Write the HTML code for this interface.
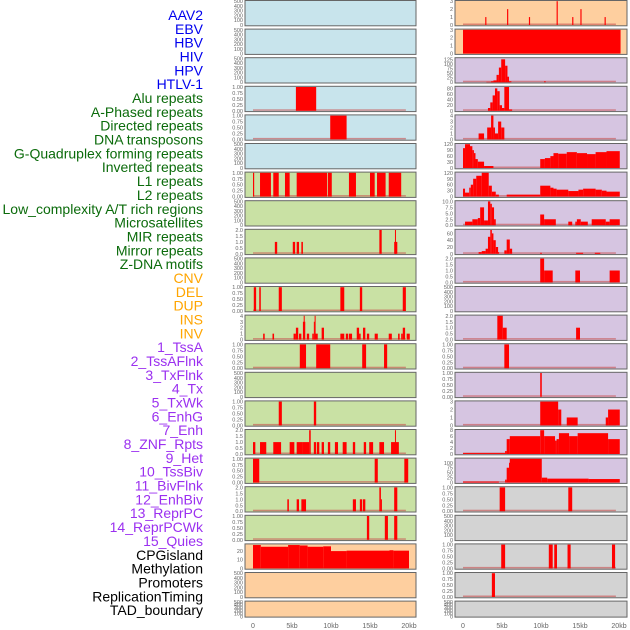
<!DOCTYPE html>
<html><head><meta charset="utf-8"><style>
html,body{margin:0;padding:0;background:#fff;}
svg{display:block;font-family:"Liberation Sans",sans-serif;}
</style></head><body>
<svg id="chart" width="630" height="630" viewBox="0 0 630 630" xmlns="http://www.w3.org/2000/svg"></svg>
<script>
const labels=["AAV2","EBV","HBV","HIV","HPV","HTLV-1","Alu repeats","A-Phased repeats","Directed repeats","DNA transposons","G-Quadruplex forming repeats","Inverted repeats","L1 repeats","L2 repeats","Low_complexity A/T rich regions","Microsatellites","MIR repeats","Mirror repeats","Z-DNA motifs","CNV","DEL","DUP","INS","INV","1_TssA","2_TssAFlnk","3_TxFlnk","4_Tx","5_TxWk","6_EnhG","7_Enh","8_ZNF_Rpts","9_Het","10_TssBiv","11_BivFlnk","12_EnhBiv","13_ReprPC","14_ReprPCWk","15_Quies","CPGisland","Methylation","Promoters","ReplicationTiming","TAD_boundary"];
const labelGroups=[6,13,5,15,5];
const groupColors=["#0000ee","#0b6b0b","#ffa500","#9b30f0","#000000"];
const xTicks=[0,5,10,15,20];
const xTickLabels=["0","5kb","10kb","15kb","20kb"];
const bgL=["b","b","b","b","b","b","g","g","g","g","g","g","g","g","g","g","g","g","g","p","p","p"];
const bgR=["p","p","v","v","v","v","v","v","v","v","v","v","v","v","v","v","v","e","e","e","e","e"];
const ymaxL=[500,500,500,1,1,500,1,500,2,500,1,4,1,500,1,2,1,2,1,27.5,500,500];
const ymaxR=[3,3,130,85,4,120,120,10,70,2,500,2,1,1,3,8,120,1,500,1,1,500];
const ticksL=[null,null,null,[0,.25,.5,.75,1],[0,.25,.5,.75,1],null,[0,.25,.5,.75,1],null,[0,.5,1,1.5,2],null,[0,.25,.5,.75,1],[0,1,2,3,4],[0,.25,.5,.75,1],null,[0,.25,.5,.75,1],[0,.5,1,1.5,2],[0,.25,.5,.75,1],[0,.5,1,1.5,2],[0,.25,.5,.75,1],[0,10,20],null,null];
const ticksR=[[0,1,2,3],[0,1,2,3],[0,25,50,75,100,125],[0,20,40,60,80],[0,1,2,3,4],[0,30,60,90,120],[0,30,60,90,120],[0,2.5,5,7.5,10],[0,20,40,60],[0,.5,1,1.5,2],null,[0,.5,1,1.5,2],[0,.25,.5,.75,1],[0,.25,.5,.75,1],[0,1,2,3],[0,2,4,6,8],[0,25,50,75,100],[0,.25,.5,.75,1],null,[0,.25,.5,.75,1],[0,.25,.5,.75,1],null];
const segsL=[[],[],[],
[[5.5,8.1,1]],
[[9.9,12.0,1]],
[],
[[0,0.15,1],[0.9,2.3,1],[2.6,3.3,1],[4.1,4.7,1],[5.6,9.5,1],[9.6,10.1,1],[12.3,13.2,1],[15.0,15.6,1],[15.9,17.0,1],[17.4,19.0,1]],
[],
[[2.8,3.1,1],[5.1,5.4,1],[5.6,5.9,1],[6.2,6.4,1],[16.2,16.5,2],[18.1,18.5,1],[18.2,18.3,2]],
[],
[[0.1,0.4,1],[0.8,1.0,1],[3.3,3.7,1],[11.2,11.7,1],[13.7,14.0,1],[19.2,19.6,1]],
[[1.3,1.5,1],[2.5,2.7,1],[5.2,5.5,1],[5.5,5.8,2],[5.9,6.2,1],[6.4,6.7,3],[6.5,6.6,4],[6.9,7.2,1],[7.6,7.8,1],[7.8,7.9,3],[7.9,8.0,4],[8.0,8.3,1],[8.8,9.1,2],[11.2,11.7,1],[11.9,12.2,1],[12.3,12.7,1],[13.3,13.6,2],[13.6,13.8,1],[14.1,14.4,2],[14.6,14.9,1],[15.6,16.0,1],[17.4,17.8,1],[18.6,18.8,1],[19.0,19.2,1],[19.2,19.5,2],[19.7,20.1,1]],
[[6.0,6.8,1],[8.1,9.9,1],[14.0,14.5,1],[16.8,17.2,1]],
[],
[[3.3,3.7,1],[7.8,8.1,1]],
[[0,0.3,1],[0.9,1.7,1],[2.6,3.6,1],[4.7,5.3,1],[5.6,6.4,1],[6.4,7.2,1],[7.2,7.4,2],[7.8,8.1,1],[8.2,8.5,1],[8.8,9.1,1],[9.6,9.9,1],[10.5,10.9,1],[11.5,12.0,1],[12.8,13.1,1],[14.2,14.5,1],[14.9,15.4,1],[16.2,16.8,1],[17.7,18.7,1],[18.2,18.3,2]],
[[0,0.8,1],[15.6,16.0,1],[19.4,19.9,1]],
[[4.4,4.6,1],[5.6,5.9,1],[6.2,6.8,1],[12.8,13.2,1],[13.7,14.0,1],[14.1,14.4,1],[16.2,16.4,2],[16.4,16.5,1],[18.1,18.5,2]],
[[14.6,14.9,1],[16.9,17.3,1],[18.1,18.5,1]],
[[0,1,27],[1,4.5,25],[4.5,6,27],[6,7,26.5],[7,9,25],[9,10,25.5],[10,12,20],[12,17.5,20.5],[17.5,18,21],[18,20,20.5]],
[],[]];
const segsR=[
[[2.85,3.0,1],[5.65,5.8,2],[8.45,8.6,1],[12.0,12.15,3],[14.0,14.15,1],[15.05,15.2,2],[18.15,18.3,1]],
[[0,20.2,3]],
[[3.0,6.0,2],[3.6,3.9,5],[3.9,4.3,10],[4.3,4.6,40],[4.6,4.9,80],[4.9,5.4,125],[5.4,5.7,90],[5.7,5.9,30],[5.9,6.2,5],[10.4,10.6,5]],
[[3.2,3.5,10],[3.5,3.8,30],[3.8,4.1,55],[4.1,4.4,80],[4.4,4.7,70],[4.7,5.0,20],[5.0,5.3,10],[5.3,5.9,85],[5.9,6.3,5]],
[[2.0,2.7,1],[3.1,3.6,2],[3.6,3.9,4],[3.9,4.1,2],[4.1,4.5,1],[4.5,4.9,3],[4.9,5.3,2]],
[[0,0.26,100],[0.26,0.9,120],[0.9,1.2,110],[1.2,1.4,90],[1.4,1.6,75],[1.6,1.9,45],[1.9,2.7,32],[2.7,3.9,10],[9.9,10.5,45],[10.5,11.2,50],[11.2,11.6,60],[11.6,12.2,75],[12.2,13.3,72],[13.3,14.6,80],[14.6,15.9,75],[15.9,17.0,70],[17.0,18.4,80],[18.4,20.1,85]],
[[0,0.26,40],[0.26,0.8,20],[0.8,1.0,45],[1.0,1.3,60],[1.3,1.7,90],[1.7,2.4,105],[2.4,3.3,120],[3.3,3.7,55],[3.7,4.2,25],[4.2,4.6,10],[5.6,9.9,10],[9.9,11.2,55],[11.2,11.6,45],[11.6,12.0,40],[12.0,13.5,35],[13.5,14.8,28],[14.8,15.4,35],[15.4,17.0,40],[17.0,17.8,35],[17.8,18.4,30],[18.4,20.1,25]],
[[0.26,1.2,1.5],[1.2,1.9,2.5],[1.9,2.2,3],[2.2,2.7,7.5],[2.7,3.2,2],[3.2,3.5,10],[3.5,3.7,9],[3.7,3.98,7.5],[3.98,4.2,2.5],[9.9,10.4,4.5],[10.4,11.9,2.5],[13.5,14.0,1.5],[14.4,14.6,1.5],[14.6,15.1,2.5],[15.1,16.0,1.5],[16.5,18.3,2.5],[18.3,18.8,1.5],[18.8,20.1,2.5]],
[[2.0,2.4,5],[2.4,2.9,8],[2.9,3.2,15],[3.2,3.5,50],[3.5,3.7,70],[3.7,3.9,60],[3.9,4.2,40],[4.2,4.5,20],[4.5,4.6,5],[5.3,5.6,10],[5.6,6.0,42],[6.0,6.3,15],[9.9,10.1,3],[14.5,15.4,3],[16.9,17.6,3]],
[[9.9,10.4,2],[10.4,11.5,1],[14.4,15.0,1],[18.8,20.1,1]],
[],
[[4.4,5.1,2],[5.1,5.6,1],[14.5,15.0,1]],
[[5.3,5.9,1]],
[[9.9,10.1,1]],
[[9.9,12.2,3],[12.2,12.6,2],[13.3,14.7,1],[18.3,18.6,1],[18.6,20.1,2]],
[[0,5.4,0.3],[5.4,5.6,1],[5.6,6.0,5],[6.0,9.9,6],[9.9,10.4,8],[10.4,11.8,6],[11.8,12.0,4.5],[12.0,12.3,5],[12.3,13.6,7],[13.6,14.7,6],[14.7,18.6,7],[18.6,20.1,5]],
[[0,4.6,5],[5.4,5.6,15],[5.6,5.9,75],[5.9,6.0,100],[6.0,10.1,120],[10.1,10.8,25],[10.8,16.1,20],[16.1,20.1,18]],
[[4.7,5.4,1],[13.5,14.0,1]],
[],
[[4.9,5.4,1],[11.0,11.5,1],[11.7,12.05,1],[13.4,13.8,1],[19.1,19.5,1]],
[[3.7,4.1,1]],
[]];
const emptyTicks=[0,100,200,300,400,500];
const colors={b:"#c8e4ec",g:"#c9e1a4",p:"#fecf9f",v:"#d6c5e1",e:"#d3d3d3"};
const svg=document.getElementById('chart');
const NS="http://www.w3.org/2000/svg";
function mk(tag,attrs,parent){const e=document.createElementNS(NS,tag);for(const k in attrs)e.setAttribute(k,attrs[k]);(parent||svg).appendChild(e);return e;}
// labels
let gi=0,gc=0;
labels.forEach((t,i)=>{
  while(gc>=labelGroups[gi]){gi++;gc=0;}
  gc++;
  const el=mk('text',{x:203,y:15+i*13.84+5,'text-anchor':'end','font-size':14,fill:groupColors[gi]});
  el.textContent=t;
  
  
});
const cols=[{x0:245,x1:416,d0:253,d1:409,bg:bgL,ym:ymaxL,tk:ticksL,sg:segsL,side:'left'},
            {x0:455,x1:627,d0:463,d1:619,bg:bgR,ym:ymaxR,tk:ticksR,sg:segsR,side:'right'}];
function xScale(c,kb){return c.d0+(c.d1-c.d0)*kb/20;}
cols.forEach(c=>{
  for(let r=0;r<22;r++){
    const top=r*28.6, h=(r===21)?16:25.3;
    const g=mk('g',{});
    
    
    const rect=mk('rect',{x:c.x0,y:top+0.5,width:c.x1-c.x0,height:h,fill:colors[c.bg[r]],stroke:'#666','stroke-width':1},g);
    
    
    const pTop=top+1.2, pBot=top+h-0.3;
    const ym=c.ym[r];
    const yS=v=>pBot-(pBot-pTop)*v/ym;
    const segs=c.sg[r];
    let ticks=c.tk[r];
    if(!ticks){ticks=emptyTicks;}
    ticks.forEach(v=>{
      const t=mk('text',{x:c.x0-2,y:yS(v)+2,'text-anchor':'end','font-size':5.5,fill:'#666'},g);
      t.textContent=(ym<=1&&ticks!==emptyTicks)?v.toFixed(2):(ym<=10&&ticks.some(x=>x%1)?v.toFixed(1):String(v));
      
      
    });
    if(segs.length && !(c.side==='right'&&r===1)){
      const bl=mk('rect',{x:xScale(c,0),y:pBot-1.5,width:xScale(c,19.6)-xScale(c,0),height:1.5,fill:'rgba(200,80,80,0.6)'},g);
      
      
    }
    segs.forEach(s=>{
      const x=xScale(c,s[0]), w=Math.max(1,xScale(c,s[1])-x), y=yS(s[2]);
      const b=mk('rect',{x:x,y:y,width:w,height:pBot-y,fill:'#ff0000'},g);
      
      
    });
  }
  xTicks.forEach((v,i)=>{
    const t=mk('text',{x:xScale(c,v),y:628,'text-anchor':'middle','font-size':7,fill:'#666'});
    t.textContent=xTickLabels[i];
    
    
  });
});
</script>
</body></html>
